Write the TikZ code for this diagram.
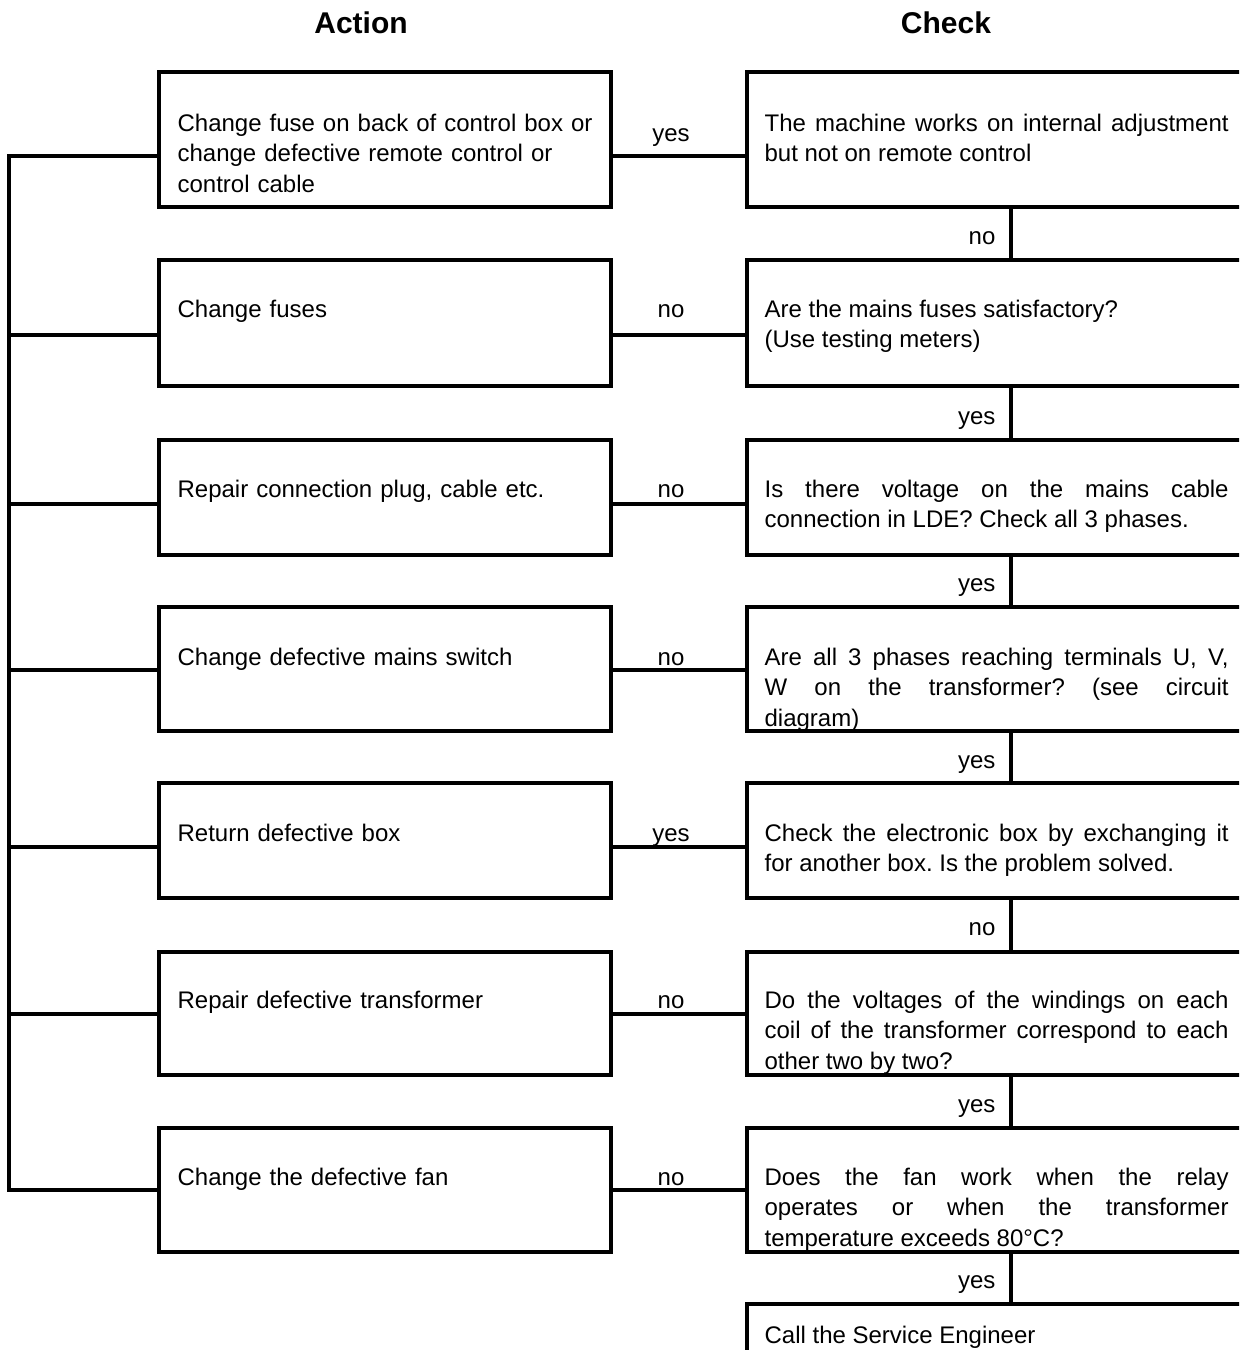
\documentclass[tikz,border=0pt]{standalone}
\usepackage{fontspec}
\setmainfont{Liberation Sans}
\hyphenpenalty=10000
\exhyphenpenalty=10000
\tolerance=10000
\frenchspacing
\begin{document}
\begin{tikzpicture}[x=0.5pt,y=-0.5pt,line width=1.6pt,
  box/.style={draw,anchor=north west,inner sep=0pt,outer sep=0pt},
  abox/.style={box,minimum width=226pt},
  cbox/.style={box,minimum width=262pt},
  bodyfont/.style={font=\fontsize{12}{15.25}\selectfont},
  atext/.style={bodyfont,anchor=base west,text width=215pt,align=left,inner sep=0pt},
  ctext/.style={bodyfont,anchor=base west,text width=232pt,align=justify,inner sep=0pt},
  lab/.style={bodyfont,anchor=base,inner sep=0pt},
  rlab/.style={bodyfont,anchor=base east,inner sep=0pt},
  head/.style={font=\fontsize{15}{18}\selectfont\bfseries,anchor=base,inner sep=0pt}]
\useasboundingbox (0,0) rectangle (1239,1350);
\clip (0,0) rectangle (1239,1350);

% headers
\node[head] (hA) at (361,33) {Action};
\node[head] (hC) at (946,33) {Check};

% action boxes
\node[abox,minimum height=67.5pt] (a1) at (159,72) {};
\node[abox,minimum height=63pt]   (a2) at (159,260) {};
\node[abox,minimum height=57.5pt] (a3) at (159,440) {};
\node[abox,minimum height=62pt]   (a4) at (159,607) {};
\node[abox,minimum height=57.5pt] (a5) at (159,783) {};
\node[abox,minimum height=61.5pt] (a6) at (159,952) {};
\node[abox,minimum height=62pt]   (a7) at (159,1128) {};

% check boxes (right side runs off the page)
\node[cbox,minimum height=67.5pt] (c1) at (747,72) {};
\node[cbox,minimum height=63pt]   (c2) at (747,260) {};
\node[cbox,minimum height=57.5pt] (c3) at (747,440) {};
\node[cbox,minimum height=62pt]   (c4) at (747,607) {};
\node[cbox,minimum height=57.5pt] (c5) at (747,783) {};
\node[cbox,minimum height=61.5pt] (c6) at (747,952) {};
\node[cbox,minimum height=62pt]   (c7) at (747,1128) {};
\node[cbox,minimum height=50pt]   (c8) at (747,1304) {};

% action texts
\node[atext] (ta1) at (176,131) {Change fuse on back of control box or\\change defective remote control or\\control cable};
\node[atext] (ta2) at (176,317) {Change fuses};
\node[atext] (ta3) at (176,497) {Repair connection plug, cable etc.};
\node[atext] (ta4) at (176,665) {Change defective mains switch};
\node[atext] (ta5) at (176,841) {Return defective box};
\node[atext] (ta6) at (176,1008) {Repair defective transformer};
\node[atext] (ta7) at (176,1185) {Change the defective fan};

% check texts
\node[ctext] (tc1) at (763,131) {The machine works on internal adjustment\linebreak but not on remote control};
\node[ctext] (tc2) at (763,317) {Are the mains fuses satisfactory?\\(Use testing meters)};
\node[ctext] (tc3) at (763,497) {Is there voltage on the mains cable\linebreak connection in LDE? Check all 3 phases.};
\node[ctext] (tc4) at (763,665) {Are all 3 phases reaching terminals U, V,\linebreak W on the transformer? (see circuit\linebreak diagram)};
\node[ctext] (tc5) at (763,841) {Check the electronic box by exchanging it\linebreak for another box. Is the problem solved.};
\node[ctext] (tc6) at (763,1008) {Do the voltages of the windings on each\linebreak coil of the transformer correspond to each\linebreak other two by two?};
\node[ctext] (tc7) at (763,1185) {Does the fan work when the relay\linebreak operates or when the transformer\linebreak temperature exceeds 80°C?};
\node[ctext] (tc8) at (763,1343) {Call the Service Engineer};

% connector levels
\coordinate (r1) at (0,156);
\coordinate (r2) at (0,335);
\coordinate (r3) at (0,504);
\coordinate (r4) at (0,670);
\coordinate (r5) at (0,847);
\coordinate (r6) at (0,1014);
\coordinate (r7) at (0,1190);
\coordinate (sp) at (9,0);
\coordinate (vx) at (1011,0);

% spine on the left
\draw (a1.west |- r1) -- (sp |- r1) -- (sp |- r7) -- (a7.west |- r7);
\foreach \i in {2,...,6}{
  \draw (sp |- r\i) -- (a\i.west |- r\i);
}
\foreach \i in {1,...,7}{
  \draw (a\i.east |- r\i) -- (c\i.west |- r\i);
}

% vertical links between checks
\draw (vx |- c1.south) -- (vx |- c2.north);
\draw (vx |- c2.south) -- (vx |- c3.north);
\draw (vx |- c3.south) -- (vx |- c4.north);
\draw (vx |- c4.south) -- (vx |- c5.north);
\draw (vx |- c5.south) -- (vx |- c6.north);
\draw (vx |- c6.south) -- (vx |- c7.north);
\draw (vx |- c7.south) -- (vx |- c8.north);

% labels between action and check
\node[lab] (l1) at (671,141) {yes};
\node[lab] (l2) at (671,317) {no};
\node[lab] (l3) at (671,497) {no};
\node[lab] (l4) at (671,665) {no};
\node[lab] (l5) at (671,841) {yes};
\node[lab] (l6) at (671,1008) {no};
\node[lab] (l7) at (671,1185) {no};

% labels between checks
\node[rlab] (v1) at (997,244) {no};
\node[rlab] (v2) at (997,424) {yes};
\node[rlab] (v3) at (997,591) {yes};
\node[rlab] (v4) at (997,768) {yes};
\node[rlab] (v5) at (997,935) {no};
\node[rlab] (v6) at (997,1112) {yes};
\node[rlab] (v7) at (997,1288) {yes};
\end{tikzpicture}
\end{document}
